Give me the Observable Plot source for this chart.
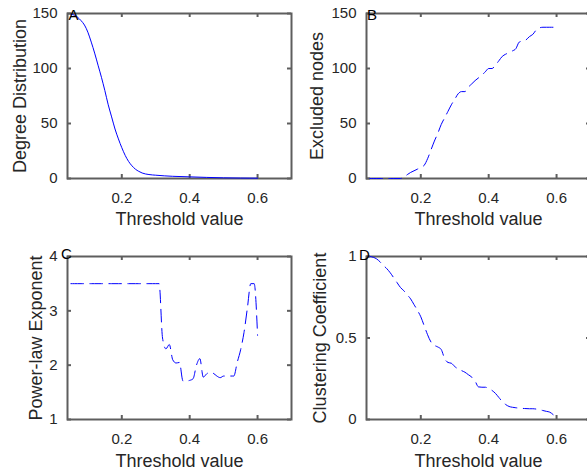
<!DOCTYPE html>
<html><head><meta charset="utf-8">
<script src="https://cdn.jsdelivr.net/npm/d3@7"></script>
<script src="https://cdn.jsdelivr.net/npm/@observablehq/plot@0.6"></script>
<style>
html,body{margin:0;padding:0;background:#fff;}
#wrap{position:relative;width:587px;height:474px;overflow:hidden;background:#fff;}
#wrap > svg{position:absolute;}
</style></head><body><div id="wrap"></div>
<script>
// ---- data ----
const xTicks = [0.2, 0.4, 0.6];
const xLabel = "Threshold value";

// Panel A: Degree Distribution (solid)
const aThreshold = [0.05,0.06,0.07,0.08,0.09,0.10,0.11,0.12,0.13,0.14,0.15,0.16,0.17,0.18,0.19,0.20,0.21,0.22,0.23,0.24,0.25,0.26,0.28,0.30,0.35,0.40,0.45,0.50,0.55,0.60];
const aDegree = [149.5,148.5,146.5,143.5,139.5,133,124,114,103,92,80,67,56,45,36,28,21,15.5,11.5,8.5,6.5,5,3.6,3,2,1.5,1,0.6,0.4,0.3];

// Shared thresholds for panels B, C, D
const thresholds = [0.05,0.06,0.07,0.08,0.09,0.10,0.11,0.12,0.13,0.14,0.15,0.16,0.17,0.18,0.19,0.20,0.21,0.22,0.23,0.24,0.25,0.26,0.27,0.28,0.29,0.30,0.31,0.32,0.33,0.34,0.35,0.36,0.37,0.38,0.39,0.40,0.41,0.42,0.43,0.44,0.45,0.46,0.47,0.48,0.49,0.50,0.51,0.52,0.53,0.54,0.55,0.56,0.57,0.58,0.59,0.60];

// Panel B: Excluded nodes
const bExcluded = [0,0,0,0,0,0,0,0,0,0,
  1,3.5,5.5,7,8.5,10,12,18,26,34,
  41,49,55,61,67,72,77,79,79,83,
  86,89,91.5,94,97,100,100,103,107,111,
  113,114.5,116,118,124,125,126,129,131,135,
  137,137.5,137.5,137.5,137.5,137.5];

// Panel C: Power-law Exponent
const cExponent = [3.5,3.5,3.5,3.5,3.5,3.5,3.5,3.5,3.5,3.5,
  3.5,3.5,3.5,3.5,3.5,3.5,3.5,3.5,3.5,3.5,
  3.5,3.5,3.5,3.5,3.5,3.5,3.5,
  2.5,2.3,2.38,2.1,2.04,2.05,1.71,1.71,1.72,1.75,
  2.0,2.12,1.78,1.84,1.87,1.85,1.8,1.77,1.8,1.8,
  1.8,1.8,2.05,2.28,2.6,3.05,3.5,3.5,2.55];

// Panel D: Clustering Coefficient (0.05 .. 0.59)
const dThreshold = thresholds.slice(0, 55);
const dClustering = [1.0,0.995,0.985,0.967,0.945,0.925,0.9,0.87,0.84,0.81,
  0.79,0.765,0.74,0.705,0.67,0.63,0.575,0.52,0.475,0.455,
  0.445,0.43,0.375,0.35,0.345,0.325,0.31,0.3,0.29,0.275,
  0.26,0.235,0.2,0.198,0.198,0.19,0.178,0.16,0.135,0.11,
  0.092,0.08,0.075,0.072,0.07,0.068,0.067,0.066,0.066,0.064,
  0.06,0.055,0.05,0.045,0.03];

// ---- drawing ----
const axisColor = "#5e5e5e";
const textColor = "#262626";
const font = "'Liberation Sans', Arial, Helvetica, sans-serif";
const wrap = document.getElementById("wrap");
const fmt = d => String(d);

function panel(o) {
  const W = 300, H = 235, ml = 67, mr = 9, mt = 13, mb = o.mb;
  const iw = W - ml - mr, ih = H - mt - mb, tl = 4;
  const data = o.x.map((v, i) => ({x: v, y: o.y[i]}));
  const fig = Plot.plot({
    width: W, height: H,
    marginLeft: ml, marginRight: mr, marginTop: mt, marginBottom: mb,
    style: {fontFamily: font, fontSize: "15px", color: textColor, overflow: "visible"},
    x: {domain: [0.04, 0.7], ticks: xTicks, tickFormat: fmt, tickSize: 0, tickPadding: 14, label: null},
    y: {domain: o.yDomain, ticks: o.yTicks, tickFormat: fmt, tickSize: 0, tickPadding: 10, label: null},
    marks: [
      Plot.tickX(xTicks, {x: d => d, insetTop: ih - tl, stroke: axisColor, strokeWidth: 2}),
      Plot.tickX(xTicks, {x: d => d, insetBottom: ih - tl, stroke: axisColor, strokeWidth: 2}),
      Plot.tickY(o.yTicks, {y: d => d, insetRight: iw - tl, stroke: axisColor, strokeWidth: 2}),
      Plot.tickY(o.yTicks, {y: d => d, insetLeft: iw - tl, stroke: axisColor, strokeWidth: 2}),
      Plot.frame({stroke: axisColor, strokeWidth: 2}),
      Plot.line(data, {x: "x", y: "y", stroke: "#0000ff", strokeWidth: 1,
        strokeDasharray: o.dashed ? "12.5,6.5" : null, curve: "monotone-x"}),
      Plot.text([xLabel], {text: d => d, frameAnchor: "bottom", dy: o.xLabelDy, fontSize: 18, fill: textColor}),
      Plot.text([o.yLabel], {text: d => d, frameAnchor: "left", textAnchor: "middle", rotate: -90, dx: o.yLabelDx, fontSize: 18, fill: textColor}),
      Plot.text([o.letter], {text: d => d, frameAnchor: "top-left", textAnchor: "start", dx: o.letterDx, dy: o.letterDy, fontSize: 15, fill: "#000"})
    ]
  });
  fig.style.left = o.left + "px";
  fig.style.top = o.top + "px";
  fig.style.background = "transparent";
  wrap.appendChild(fig);
}

panel({x: aThreshold, y: aDegree, yDomain: [0, 150], yTicks: [0, 50, 100, 150], yLabel: "Degree Distribution",
  letter: "A", dashed: false, left: 0, top: 0, mb: 57, xLabelDy: 46, yLabelDx: -47.5, letterDx: 1, letterDy: -4});
panel({x: thresholds, y: bExcluded, yDomain: [0, 150], yTicks: [0, 50, 100, 150], yLabel: "Excluded nodes",
  letter: "B", dashed: true, left: 299, top: 0, mb: 57, xLabelDy: 46, yLabelDx: -49.5, letterDx: 0.5, letterDy: -4.5});
panel({x: thresholds, y: cExponent, yDomain: [1, 4], yTicks: [1, 2, 3, 4], yLabel: "Power-law Exponent",
  letter: "C", dashed: true, left: 0, top: 243, mb: 59, xLabelDy: 47, yLabelDx: -31.5, letterDx: -6.5, letterDy: -8.5});
panel({x: dThreshold, y: dClustering, yDomain: [0, 1], yTicks: [0, 0.5, 1], yLabel: "Clustering Coefficient",
  letter: "D", dashed: true, left: 299, top: 243, mb: 59, xLabelDy: 47, yLabelDx: -46, letterDx: -7.5, letterDy: -7});
</script>
</body></html>
